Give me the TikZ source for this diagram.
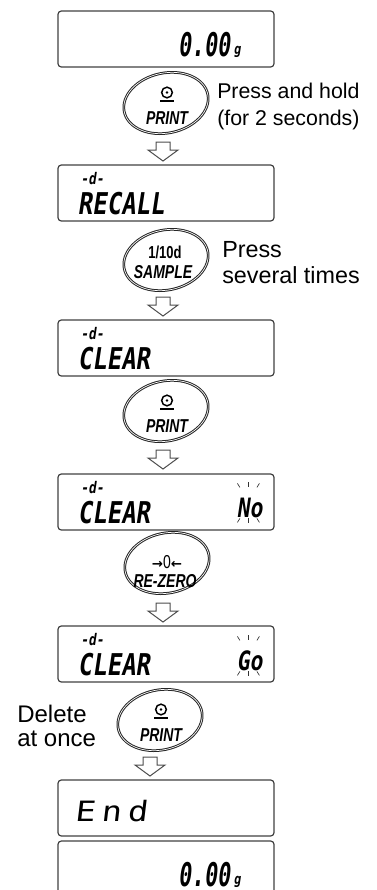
\documentclass[tikz,border=0pt]{standalone}
\usepackage{fontspec}
\setmainfont{Liberation Sans}
\newfontfamily\keyfont{Liberation Sans}[FakeStretch=0.75]
\newfontfamily\lcdfont{DejaVu Sans Mono}[FakeSlant=0.15,FakeStretch=0.8]
\newfontfamily\lcddigit{DejaVu Sans Mono}[FakeSlant=0.12,FakeStretch=0.66]
\newfontfamily\lcdwide{DejaVu Sans Mono}[FakeSlant=0.12,FakeStretch=1.2]
\newfontfamily\symfont{DejaVu Sans}
\usetikzlibrary{shapes.geometric,calc}

\tikzset{
  lcdbox/.style={draw=black!75, line width=0.9pt, rounded corners=2.5pt,
    minimum width=162pt, minimum height=42pt, inner sep=0pt},
  keybtn/.style={ellipse, draw=black!85, double=white, double distance=0.5pt,
    line width=0.75pt, minimum width=64pt, minimum height=45pt, rotate=12, inner sep=0pt},
  keytxt/.style={inner sep=0pt, anchor=base, font=\keyfont\bfseries\itshape\fontsize{14}{14}\selectfont},
  lcdtxt/.style={inner sep=0pt, anchor=base west, font=\lcdfont\bfseries\fontsize{22.5}{22.5}\selectfont},
  dtag/.style={inner sep=0pt, anchor=base west, font=\lcdfont\bfseries\fontsize{12}{12}\selectfont},
  note/.style={inner sep=0pt, anchor=base west, align=left},
  hollow/.style={draw=black!70, line width=0.75pt, fill=white, line join=miter},
  blink/.style={line width=0.5pt, black!80}
}

\begin{document}
\begin{tikzpicture}[x=0.75pt,y=-0.75pt]
\useasboundingbox (0,0) rectangle (377,890);
% displays
\foreach \n/\y in {1/39,2/193,3/348,4/502,5/654,6/808,7/869}
  \node[lcdbox] (d\n) at (166,\y) {};
\foreach \n in {1,7} {
  \node[lcdtxt, anchor=base east, font=\lcddigit\bfseries\fontsize{24.5}{24.5}\selectfont] (w\n) at ($(d\n.north west)+(173,46)$) {0.00};
  \node[dtag, font=\lcdfont\bfseries\fontsize{11}{11}\selectfont] (g\n) at ($(d\n.north west)+(176,44)$) {g};
}
\foreach \n/\s in {2/RECALL,3/CLEAR,4/CLEAR,5/CLEAR} {
  \node[dtag] (t\n) at ($(d\n.north west)+(23,20)$) {-d-};
  \node[lcdtxt] (m\n) at ($(d\n.north west)+(20,50)$) {\s};
}
\node[lcdtxt, font=\lcdwide\fontsize{21}{21}\selectfont] (m6) at ($(d6.north west)+(17,42)$) {E\kern4.5pt n\kern4.5pt d};
% blinking No / Go
\coordinate (k4) at ($(d4.north west)+(179,44)$);
\coordinate (k5) at ($(d5.north west)+(179,45)$);
\node[lcdtxt, font=\lcdfont\bfseries\fontsize{20}{20}\selectfont] (s4) at (k4) {No};
\node[lcdtxt, font=\lcdfont\bfseries\fontsize{20}{20}\selectfont] (s5) at (k5) {Go};
\foreach \n in {4,5} {
  \begin{scope}[shift={(k\n)}]
    \draw[blink] (1,-34) -- (3.5,-30); \draw[blink] (12,-35) -- (12,-30); \draw[blink] (23,-34) -- (20.5,-30);
    \draw[blink] (3.5,1) -- (1,5); \draw[blink] (12,1) -- (12,6); \draw[blink] (20.5,1) -- (23,5);
  \end{scope}
}
% keys
\foreach \n/\x/\y in {1/166/103,2/166/260,3/166/411,4/167/563,5/160/720}
  \node[keybtn] (b\n) at (\x,\y) {};
\foreach \n in {1,3,5} {
  \node[keytxt] (p\n) at ($(b\n)+(1,21)$) {PRINT};
  \draw[line width=1.1pt] ($(b\n)+(1,-10.5)$) circle[radius=4pt];
  \fill ($(b\n)+(1,-10.5)$) circle[radius=1.1pt];
  \fill ($(b\n)+(-6,-3.5)$) rectangle ($(b\n)+(8,-1)$);
}
\node[keytxt, font=\keyfont\bfseries\fontsize{13}{13}\selectfont] (u2) at ($(b2)+(-1,-2)$) {1/10d};
\node[keytxt] (s2) at ($(b2)+(-3,18)$) {SAMPLE};
\node[keytxt, font=\keyfont\fontsize{14}{14}\selectfont] (z4) at ($(b4)+(0,5)$)
  {{\symfont\bfseries\fontsize{10}{10}\selectfont →}0{\symfont\bfseries\fontsize{10}{10}\selectfont ←}};
\node[keytxt] (r4) at ($(b4)+(-2,24)$) {RE-ZERO};
% arrows
\foreach \n/\x/\y in {1/163/142,2/163/297,3/163/450,4/163/603,5/150/757} {
  \coordinate (a\n) at (\x,\y);
  \draw[hollow] (a\n) ++(-7,0) -- ++(14,0) -- ++(0,8) -- ++(8,0) -- ++(-15,11) -- ++(-15,-11) -- ++(8,0) -- cycle;
}
% notes (base = last line)
\node[note, font=\fontsize{16}{20.25}\selectfont] (n1) at (217,125) {Press and hold\\(for 2 seconds)};
\node[note, font=\fontsize{17.5}{19.5}\selectfont] (n2) at (222,283) {Press\\several times};
\node[note, font=\fontsize{18}{17.5}\selectfont] (n5) at (17,746) {Delete\\at once};
\end{tikzpicture}
\end{document}
